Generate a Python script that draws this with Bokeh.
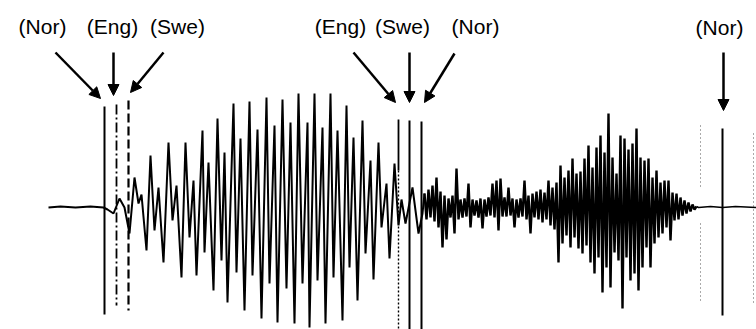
from bokeh.plotting import figure
from bokeh.models import Range1d, Arrow, NormalHead
from bokeh.core.properties import value
from bokeh.embed import file_html
from bokeh.resources import INLINE
import numpy as np

# ---------------- data ----------------
# Voiced part of the waveform: extrema (time in samples, amplitude)
wave_t = [48, 60, 75, 90, 103, 107, 113, 119, 124, 129, 134, 138, 141, 146, 150, 154, 158, 163,
          168, 172, 176, 181, 185, 189, 193, 196, 202, 204, 208, 213, 217, 221, 224, 227, 233,
          236, 240, 244, 249, 252, 257, 261, 266, 269, 274, 277, 282, 286, 290, 294, 298, 302,
          307, 309, 314, 317, 322, 325, 330, 333, 337, 342, 346, 349, 353, 357, 362, 365, 370,
          373, 378, 381, 386, 389, 394, 398, 401, 405, 412, 418, 422]
wave_a = [0, 1, 0, 1, 0, -2, -6, 9, 0, -26, 30, 4, 13, -43, 52, -23, 20, -55,
          65, -13, 22, -70, 65, -30, 27, -68, 77, -45, 45, -83, 89, -53, 55, -95, 104,
          -65, 69, -103, 106, -68, 78, -111, 110, -76, 82, -115, 108, -81, 85, -116, 114, -76,
          85, -120, 114, -73, 80, -116, 114, -70, 77, -113, 102, -60, 70, -93, 87, -46, 47,
          -72, 65, -20, 24, -51, 44, -18, 8, -16, 20, -26, -6]

# Fricative noise part: uniformly sampled amplitudes
noise_t0 = 424
noise_dt = 2
noise_a = [14, -12, 18, -10, 22,
           -14, 30, -20, 16, -40,
           12, -32, 9, -10, 12,
           -26, 39, -12, 8, -10,
           9, -9, 24, -20, 8,
           -8, 7, -10, 9, -21,
           8, -9, 10, -8, 24,
           -10, 27, -23, 29, -9,
           10, -9, 20, -8, 9,
           -20, 8, -10, 9, -9,
           27, -12, 12, -26, 14,
           -10, 16, -12, 18, -15,
           15, -12, 27, -18, 20,
           -22, 25, -55, 42, -36,
           30, -28, 37, -40, 49,
           -30, 34, -41, 36, -46,
           49, -38, 62, -55, 40,
           -66, 60, -50, 72, -85,
           55, -60, 94, -80, 50,
           -45, 34, -53, 72, -101,
           69, -50, 58, -73, 64,
           -66, 79, -83, 50, -60,
           47, -40, 49, -60, 30,
           -36, 37, -30, 25, -26,
           27, -20, 27, -33, 15,
           -13, 14, -12, 10, -8,
           7, -6, 5, -4, 3,
           -2, 1]

# Silence after the noise
tail_t = [698, 710, 722, 735, 756]
tail_a = [0, 1, 0, 1, 0]

# Boundary markers (language, time)
marker_lang = ["Nor", "Eng", "Swe", "Eng", "Swe", "Nor", "Nor"]
marker_t = [104, 116, 128, 398, 409, 421, 722]

# ---------------- layout / style ----------------
# each marker: list of line pieces (top, bottom, dash, width), label centre, arrow geometry
layout = [
    dict(pieces=[(101, -107, "solid", 2.0)], lx=42, ly=181, sx=55, sy=155, tdx=-4, ty=109),
    dict(pieces=[(103, -98, "10 3 2 3", 1.8)], lx=112, ly=181, sx=113, sy=155, tdx=-3, ty=112),
    dict(pieces=[(107, -103, "9 4", 2.2)], lx=177, ly=181, sx=163, sy=155, tdx=2, ty=115),
    dict(pieces=[(88, 37, "solid", 1.8), (37, -125, "2 2", 1.4)], lx=340, ly=181, sx=353, sy=155, tdx=-3, ty=105),
    dict(pieces=[(87, -125, "solid", 2.0)], lx=402, ly=181, sx=409, sy=155, tdx=0, ty=105),
    dict(pieces=[(86, -125, "solid", 2.0)], lx=475, ly=181, sx=454, sy=154, tdx=3, ty=105),
    dict(pieces=[(79, -108, "solid", 2.0)], lx=719, ly=180, sx=723, sy=155, tdx=1, ty=97),
]

p = figure(width=756, height=329, output_backend="svg", toolbar_location=None,
           x_range=Range1d(0, 756), y_range=Range1d(-122, 207),
           x_axis_type=None, y_axis_type=None,
           min_border=0, min_border_left=0, min_border_right=0,
           min_border_top=0, min_border_bottom=0)
p.outline_line_color = None
p.xgrid.visible = False
p.ygrid.visible = False
p.background_fill_color = "white"
p.border_fill_color = "white"

# faint dotted trace lines near the end
p.segment(x0=[700, 700, 753], y0=[82, -16, 74], x1=[700, 700, 753], y1=[19, -96, -98],
          line_color="#555555", line_width=1, line_dash="1 3")

# marker lines
for t, lay in zip(marker_t, layout):
    for top, bot, dash, w in lay["pieces"]:
        p.segment(x0=[t], y0=[top], x1=[t], y1=[bot],
                  line_color="black", line_width=w, line_dash=dash)

# waveform: voiced part, noise part, silence
noise_t = list(noise_t0 + noise_dt * np.arange(len(noise_a)))
p.line(wave_t + [noise_t[0]], wave_a + [noise_a[0]], line_color="black", line_width=2.0)
p.line(noise_t, noise_a, line_color="black", line_width=2.4)
p.line([noise_t[-1]] + tail_t, [noise_a[-1]] + tail_a, line_color="black", line_width=1.6)

# labels and arrows
labels = ["(" + s + ")" for s in marker_lang]
p.text(x=[l["lx"] for l in layout], y=[l["ly"] for l in layout], text=labels,
       text_font=value("Liberation Sans"), text_font_size="21px",
       text_align="center", text_baseline="middle", text_color="black")

for t, lay in zip(marker_t, layout):
    p.add_layout(Arrow(end=NormalHead(size=11, fill_color="black", line_color="black"),
                       x_start=lay["sx"], y_start=lay["sy"],
                       x_end=t + lay["tdx"], y_end=lay["ty"],
                       line_color="black", line_width=2.5))

open("out.html", "w").write(file_html(p, INLINE))
